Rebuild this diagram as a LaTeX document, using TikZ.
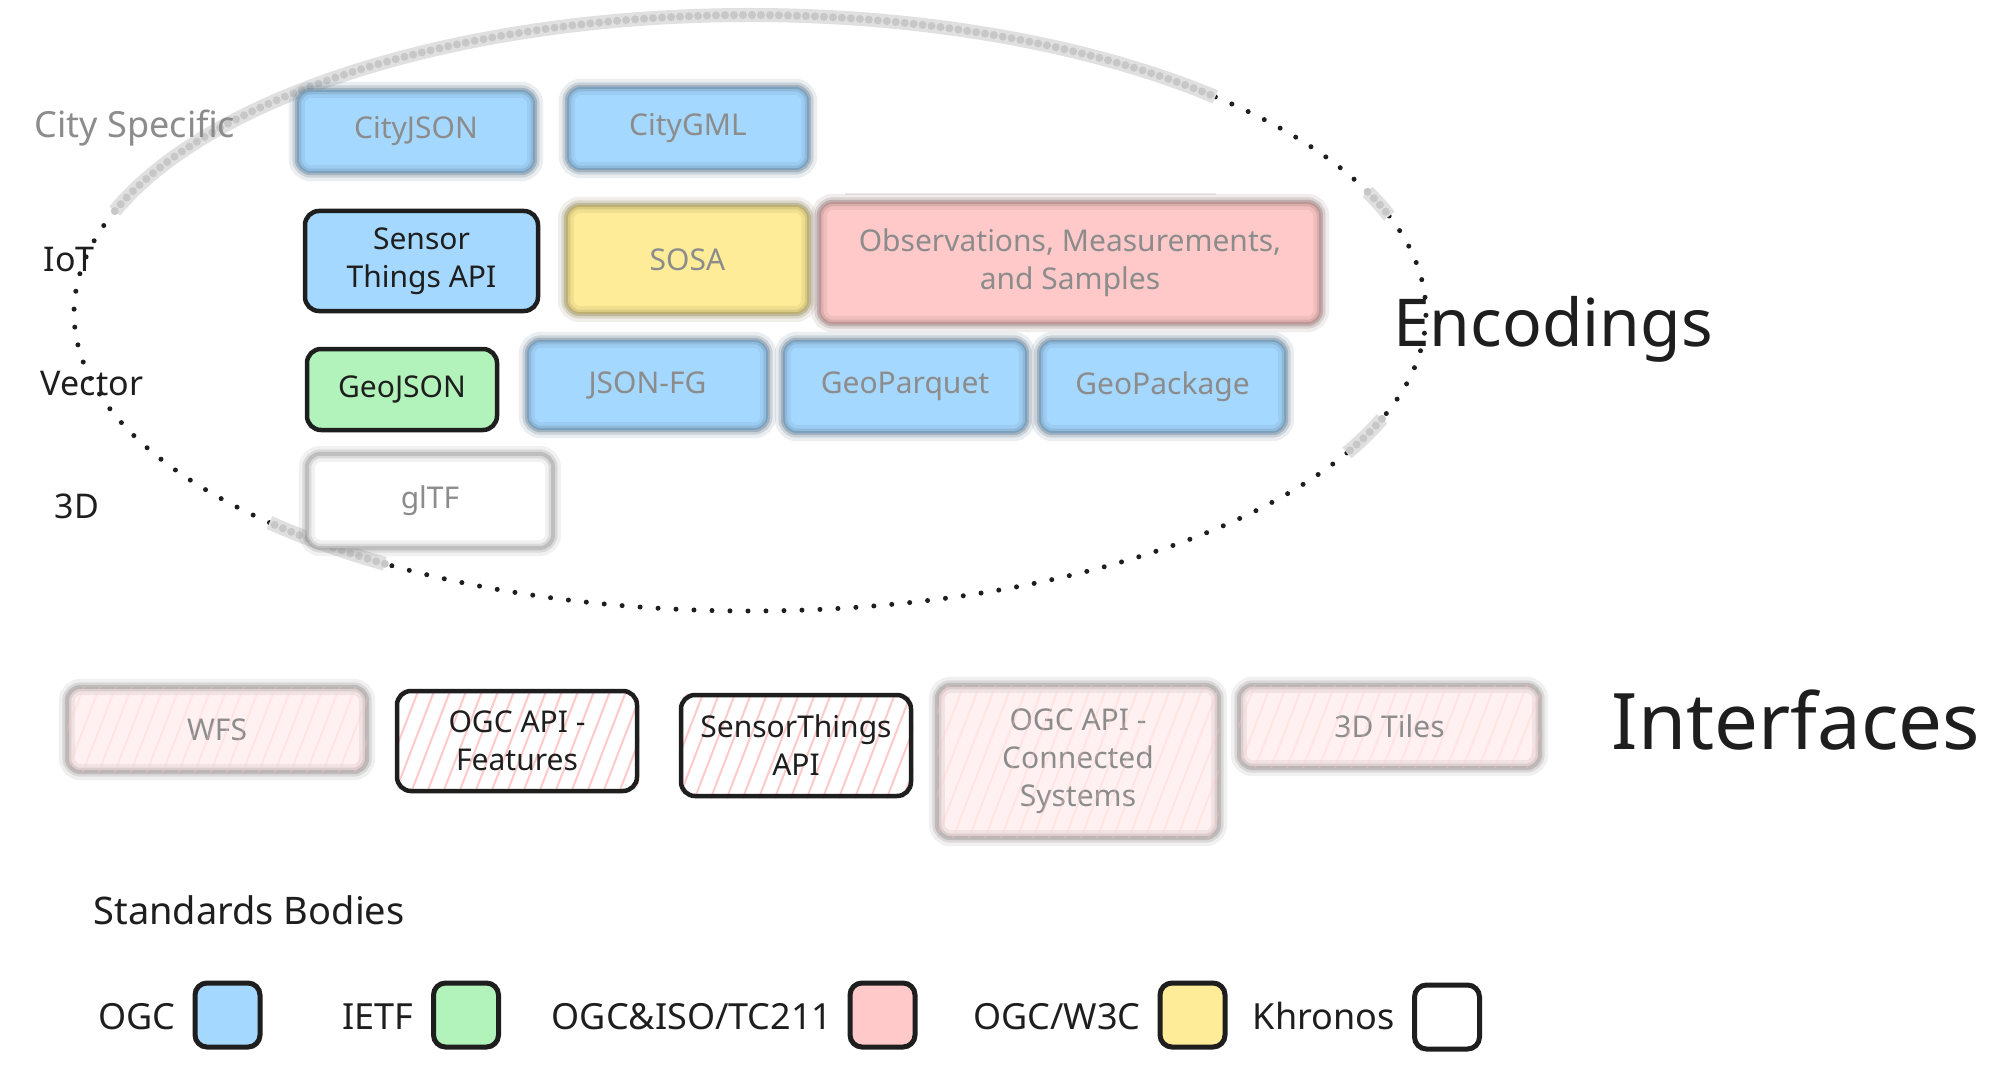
\documentclass[tikz,border=0pt]{standalone}
\usepackage{fontspec}
\setmainfont{Noto Sans}
\usetikzlibrary{backgrounds,calc}
\definecolor{ink}{HTML}{1E1E1E}
\definecolor{ogcblue}{HTML}{A5D8FF}
\definecolor{ietfgreen}{HTML}{B2F2BB}
\definecolor{isopink}{HTML}{FFC9C9}
\definecolor{w3cyellow}{HTML}{FFEC99}
\definecolor{hatchbg}{HTML}{FFF1F1}
\newcommand\boxfnt{\fontsize{30}{38}\selectfont}
\newcommand\rowfnt{\fontsize{34}{40}\selectfont}
\newcommand\legfnt{\fontsize{36}{42}\selectfont}
\tikzset{
  sharpbox/.style={draw=ink, line width=4.5pt, rounded corners=14pt, align=center, font=\boxfnt, text=ink, inner sep=0pt},
  blurbox/.style={rounded corners=14pt, align=center, font=\boxfnt, text=black!45, inner sep=0pt},
  glowA/.style={line width=16pt, opacity=.12, rounded corners=14pt},
  glowB/.style={line width=9pt, opacity=.22, rounded corners=14pt},
  glowC/.style={line width=4pt, opacity=.35, rounded corners=14pt},
  rowlabel/.style={font=\rowfnt, text=ink},
  leglabel/.style={font=\legfnt, text=ink, anchor=base east},
  legbox/.style={draw=ink, line width=5pt, rounded corners=12pt, minimum width=65pt, minimum height=64pt, inner sep=0pt},
  dots/.style={line width=5pt, line cap=round, dash pattern=on 0pt off 18pt, draw=ink},
  blurband/.style={line width=14pt, draw=black!12},
  blurdots/.style={line width=8pt, line cap=round, dash pattern=on 0pt off 9pt, draw=black!22},
  hatchline/.style={draw=isopink, line width=2pt},
}
\newcommand\blurnode[7]{%
  \node[blurbox, fill=#6, minimum width=#4pt, minimum height=#5pt] (#1) at (#2,#3) {#7};
  \draw[glowA, draw=#6!55!black] (#1.south west) rectangle (#1.north east);
  \draw[glowB, draw=#6!55!black] (#1.south west) rectangle (#1.north east);
  \draw[glowC, draw=#6!55!black] (#1.south west) rectangle (#1.north east);
}
\newcommand\hatch[3]{%
  \begin{scope}
    \clip[rounded corners=14pt] (#1.south west) rectangle (#1.north east);
    \foreach \i in {-5,...,#2}{\draw[hatchline,#3] ($(#1.south west)+(\i*16pt,0pt)$) -- ++(64pt,166pt);}
  \end{scope}}
\newcommand\earc[3]{%
  \draw[#1] (750,313) ++(#2:676 and 298) arc[start angle=#2, end angle=#3, x radius=676, y radius=298];}
\begin{document}
\begin{tikzpicture}[x=1pt,y=-1pt]
\useasboundingbox (0,0) rectangle (2007,1067);
\begin{pgfonlayer}{background}
\fill[white] (0,0) rectangle (2007,1067);
\end{pgfonlayer}

% dotted ellipse round the encodings
\earc{dots}{313.5}{336}
\earc{dots}{341}{380.8}
\earc{dots}{388}{482.7}
\earc{dots}{495.3}{560}
\foreach \a/\b in {200/313.5, 336/341, 380.8/388, 482.7/495.3}{
  \earc{blurband}{\a}{\b}
  \earc{blurdots}{\a}{\b}
}
\draw[line width=2pt, draw=black!8] (845,194) -- (1216,194);

% row labels
\node[rowlabel, text=black!45, font=\fontsize{36}{40}\selectfont] (cityspec) at (135,128) {City Specific};
\node[rowlabel] (iot) at (69,260) {IoT};
\node[rowlabel] (vector) at (92,384) {Vector};
\node[rowlabel] (threed) at (77,506) {3D};

% encodings
\blurnode{cityjson}{416}{131.5}{238}{83}{ogcblue}{CityJSON}
\blurnode{citygml}{688}{128.5}{242}{83}{ogcblue}{CityGML}
\node[sharpbox, fill=ogcblue, minimum width=233pt, minimum height=100pt] (sta) at (421.5,261) {Sensor\\Things API};
\blurnode{sosa}{687.5}{259.5}{243}{109}{w3cyellow}{SOSA}
\blurnode{oms}{1070}{263}{502}{122}{isopink}{Observations, Measurements,\\and Samples}
\node[sharpbox, fill=ietfgreen, minimum width=190pt, minimum height=81pt] (geojson) at (402,389.5) {GeoJSON};
\blurnode{jsonfg}{647.5}{385}{241}{90}{ogcblue}{JSON-FG}
\blurnode{geoparquet}{905}{386.5}{244}{93}{ogcblue}{GeoParquet}
\blurnode{geopackage}{1162.5}{386.5}{247}{93}{ogcblue}{GeoPackage}
\blurnode{gltf}{430}{501}{246}{94}{white}{glTF}

\node[font=\fontsize{66}{70}\selectfont, text=ink, anchor=base] (encodings) at (1553,346) {Encodings};

% interfaces
\blurnode{wfs}{217}{729.5}{300}{85}{hatchbg}{WFS}
\hatch{wfs}{20}{opacity=.3}
\node[sharpbox, minimum width=240pt, minimum height=100pt] (ogcapif) at (517,741) {OGC API -\\Features};
\node[sharpbox, minimum width=230pt, minimum height=101pt] (staapi) at (796,745.5) {SensorThings\\API};
\begin{pgfonlayer}{background}
\hatch{ogcapif}{16}{}
\hatch{staapi}{16}{}
\end{pgfonlayer}
\blurnode{apics}{1078}{761.5}{282}{153}{hatchbg}{OGC API -\\Connected\\Systems}
\hatch{apics}{19}{opacity=.3}
\blurnode{tiles}{1389.5}{726.5}{301}{83}{hatchbg}{3D Tiles}
\hatch{tiles}{20}{opacity=.3}

\node[font=\fontsize{78}{82}\selectfont, text=ink, anchor=base] (interfaces) at (1796,749) {Interfaces};

% legend
\node[font=\fontsize{38}{44}\selectfont, text=ink, anchor=base west] (bodies) at (90,924) {Standards Bodies};
\node[legbox, fill=ogcblue] (lgogc) at (227.5,1015) {};
\node[legbox, fill=ietfgreen] (lgietf) at (466,1015) {};
\node[legbox, fill=isopink] (lgiso) at (882.5,1015) {};
\node[legbox, fill=w3cyellow] (lgw3c) at (1192.5,1015) {};
\node[legbox, fill=white] (lgkhr) at (1447,1017) {};
\node[leglabel] (tgogc) at (179,1029) {OGC};
\node[leglabel] (tgietf) at (417,1029) {IETF};
\node[leglabel] (tgiso) at (836,1029) {OGC\&ISO/TC211};
\node[leglabel] (tgw3c) at (1144,1029) {OGC/W3C};
\node[leglabel] (tgkhr) at (1398,1029) {Khronos};
\end{tikzpicture}
\end{document}
